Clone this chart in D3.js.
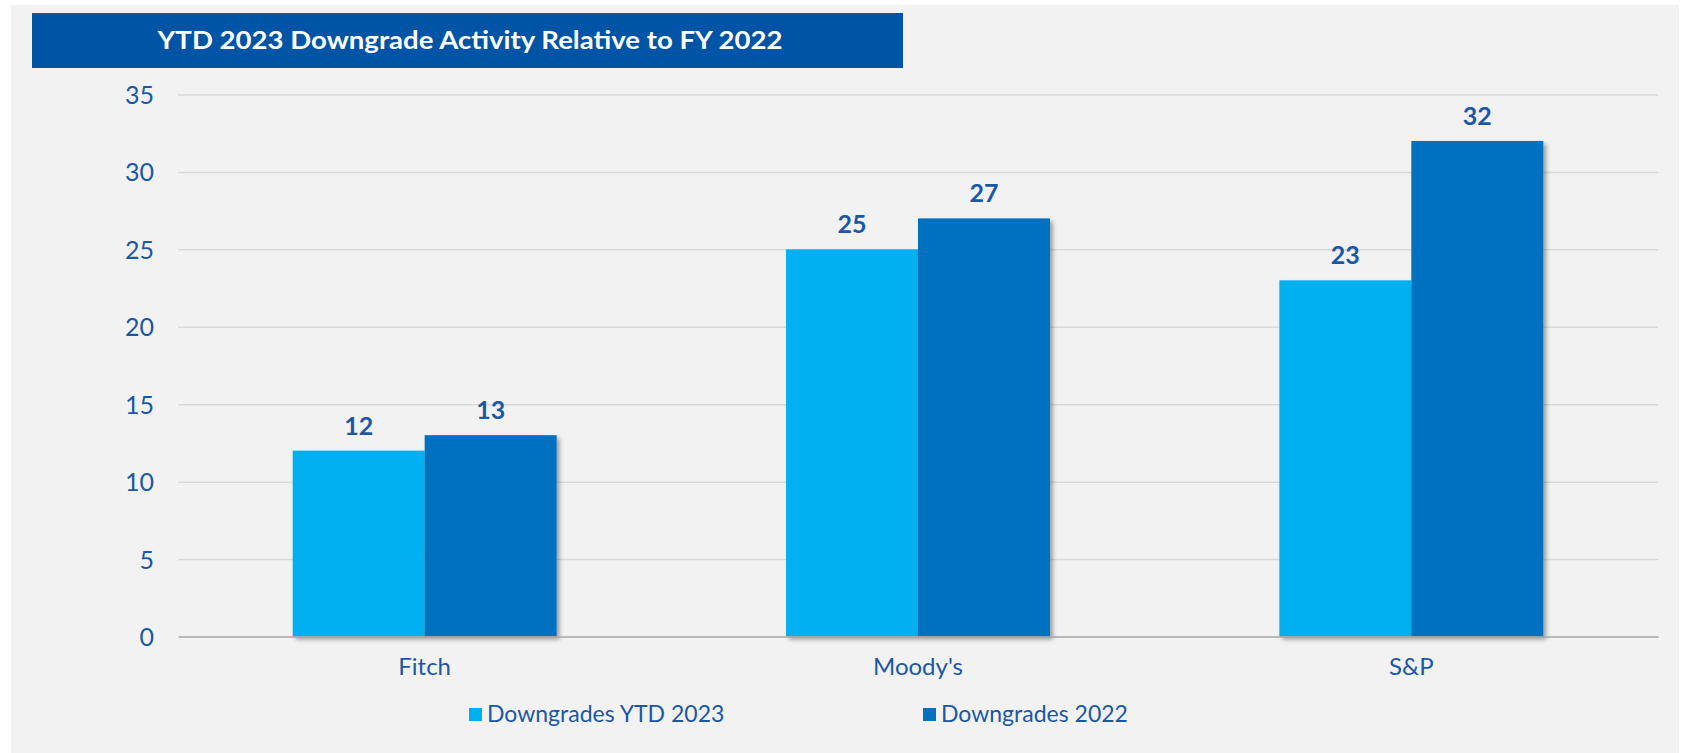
<!DOCTYPE html>
<html>
<head>
<meta charset="utf-8">
<script src="https://cdn.jsdelivr.net/npm/d3@7"></script>
<style>
  body { margin: 0; background: #ffffff; }
  svg { display: block; }
  .tick text { font-family: Lato, "Noto Sans", sans-serif; }
</style>
</head>
<body>
<script>
//downgrade counts by agency
var categories = ["Fitch", "Moody's", "S&P"];
var ytd2023 = [12, 25, 23];
var fy2022 = [13, 27, 32];
var seriesNames = ["Downgrades YTD 2023", "Downgrades 2022"];
var yTicks = [0, 5, 10, 15, 20, 25, 30, 35];
var chartTitle = "YTD 2023 Downgrade Activity Relative to FY 2022";

var colors = ["#00b0f0", "#0070c0"],
    textColor = "#1a58a6";

window.onload = drawChart();

function drawChart(){
    var width = 1689, height = 753,
        plotLeft = 178, plotRight = 1658,
        plotTop = 94.5, plotBottom = 636.5;

    var svg = d3.select("body")
        .append("svg")
        .attr("width", width)
        .attr("height", height);

    //drop shadow for the bars
    var defs = svg.append("defs");
    var shadow = defs.append("filter")
        .attr("id", "barShadow")
        .attr("x", "-10%").attr("y", "-10%")
        .attr("width", "130%").attr("height", "130%");
    shadow.append("feDropShadow")
        .attr("dx", 3).attr("dy", 3)
        .attr("stdDeviation", 2)
        .attr("flood-color", "#000")
        .attr("flood-opacity", 0.35);

    //gray panel
    svg.append("rect")
        .attr("x", 11).attr("y", 5)
        .attr("width", 1668).attr("height", height - 5)
        .attr("fill", "#f2f2f2");

    //title box
    svg.append("rect")
        .attr("x", 32).attr("y", 13)
        .attr("width", 871).attr("height", 55)
        .attr("fill", "#0054a6");
    svg.append("text")
        .attr("x", 470).attr("y", 49)
        .attr("text-anchor", "middle")
        .attr("fill", "#ffffff")
        .style("font-family", "Lato, 'Open Sans', sans-serif")
        .style("font-weight", "bold")
        .style("font-size", "25px")
        .attr("textLength", 625)
        .attr("lengthAdjust", "spacingAndGlyphs")
        .text(chartTitle);

    //scales
    var x0 = d3.scaleBand()
        .domain(categories)
        .range([plotLeft, plotRight])
        .paddingInner(0.465)
        .paddingOuter(0.2325);
    var x1 = d3.scaleBand()
        .domain(d3.range(seriesNames.length))
        .range([0, x0.bandwidth()]);
    var y = d3.scaleLinear()
        .domain([0, 35])
        .range([plotBottom, plotTop]);

    //gridlines
    var grid = svg.append("g")
        .attr("transform", "translate(" + plotLeft + ",0)")
        .call(d3.axisLeft(y)
            .tickValues(yTicks.filter(function(d){ return d > 0; }))
            .tickSize(-(plotRight - plotLeft))
            .tickFormat(""));
    grid.select(".domain").remove();
    grid.selectAll("line")
        .attr("stroke", "#d9d9d9")
        .attr("stroke-width", 1.5);

    //y axis labels
    var yAxis = svg.append("g")
        .attr("transform", "translate(" + (plotLeft - 24) + ",0)")
        .call(d3.axisLeft(y).tickValues(yTicks).tickSize(0).tickPadding(0));
    yAxis.select(".domain").remove();
    yAxis.selectAll("text")
        .attr("fill", textColor)
        .attr("dy", "0.36em")
        .style("font-size", "25px");

    //bars
    var rows = categories.map(function(c, i){
        return { cat: c, vals: [ytd2023[i], fy2022[i]] };
    });
    var groups = svg.selectAll(".barGroup")
        .data(rows)
        .enter()
        .append("g")
        .attr("class", "barGroup")
        .attr("transform", function(d){ return "translate(" + x0(d.cat) + ",0)"; });

    groups.selectAll("rect")
        .data(function(d){ return d.vals; })
        .enter()
        .append("rect")
        .attr("x", function(d, i){ return x1(i); })
        .attr("width", x1.bandwidth())
        .attr("y", function(d){ return y(d); })
        .attr("height", function(d){ return y(0) - y(d); })
        .attr("fill", function(d, i){ return colors[i]; })
        .attr("filter", "url(#barShadow)");

    //data labels
    groups.selectAll(".valLabel")
        .data(function(d){ return d.vals; })
        .enter()
        .append("text")
        .attr("class", "valLabel")
        .attr("x", function(d, i){ return x1(i) + x1.bandwidth() / 2; })
        .attr("y", function(d){ return y(d) - 16; })
        .attr("text-anchor", "middle")
        .attr("fill", textColor)
        .style("font-family", "Lato, 'Noto Sans', sans-serif")
        .style("font-weight", "bold")
        .style("font-size", "25px")
        .text(function(d){ return d; });

    //x axis baseline and labels
    var xAxis = svg.append("g")
        .attr("transform", "translate(0," + plotBottom + ")")
        .call(d3.axisBottom(x0).tickSize(0).tickPadding(21));
    xAxis.select(".domain")
        .attr("stroke", "#a6a6a6")
        .attr("stroke-width", 1.5);
    xAxis.selectAll("text")
        .attr("fill", textColor)
        .style("font-size", "24px");

    //legend
    var legendX = [469, 923];
    var legend = svg.selectAll(".legendItem")
        .data(seriesNames)
        .enter()
        .append("g")
        .attr("class", "legendItem")
        .attr("transform", function(d, i){ return "translate(" + legendX[i] + ",708)"; });
    legend.append("rect")
        .attr("width", 13).attr("height", 13)
        .attr("fill", function(d, i){ return colors[i]; });
    legend.append("text")
        .attr("x", 18).attr("y", 14)
        .attr("fill", textColor)
        .style("font-family", "Lato, 'Noto Sans', sans-serif")
        .style("font-size", "23px")
        .text(function(d){ return d; });
};
</script>
</body>
</html>
